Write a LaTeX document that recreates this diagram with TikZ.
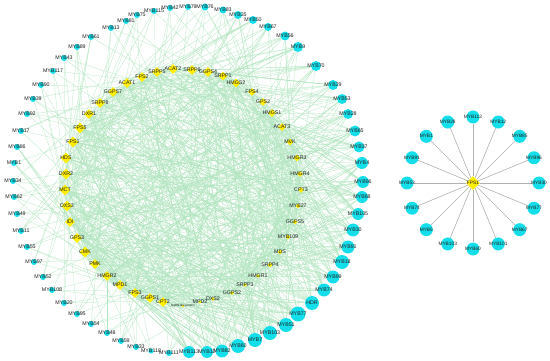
\documentclass[tikz,border=0pt]{standalone}
\usepackage{fontspec}
\setmainfont{Liberation Sans}
\usetikzlibrary{shapes.geometric,backgrounds}
\definecolor{cyanN}{RGB}{20,222,234}
\definecolor{yelN}{RGB}{255,238,0}
\definecolor{edgeG}{RGB}{178,230,192}
\definecolor{edgeS}{RGB}{178,178,178}
\begin{document}
\begin{tikzpicture}[x=1pt,y=-1pt,
  cyn/.style={circle,fill=cyanN,draw=none,inner sep=0pt},
  yel/.style={diamond,fill=yelN,draw=none,inner sep=0pt},
  lbl/.style={font=\fontsize{5.3}{6}\selectfont,inner sep=0pt,text=black!88},
  lbls/.style={font=\fontsize{4.8}{5}\selectfont,inner sep=0pt,text=black!88},
  gedge/.style={draw=edgeG,line width=0.25pt},
  sedge/.style={draw=edgeS,line width=0.6pt}]
\begin{scope}[on background layer]
\fill[white] (0,0) rectangle (550,361);
\end{scope}
\useasboundingbox (0,0) rectangle (550,361);
\pgfmathsetseed{12}
% ---------- inner ring (yellow) ----------
\foreach \n/\x/\y/\s [count=\i] in {
 SRPP8/100/103/5, GGPS7/113/92/5, ACAT1/127/83/5, FPS2/142/77/5, SRPP5/157/72/5,
 ACAT2/173/69/5, SRPP6/192/70/5, GGPS4/208/72/5, SRPP1/223/76/4.5, HMGS2/236/83/4.5,
 FPS4/252/92/4, GPS2/263/102/4, HMGS1/272/113/4, ACAT3/282/127/4, MVK/290/142/3.5,
 HMGR3/297/158/3.5, HMGR4/300/174/3, CPT3/301/190/3, MYB27/298/206/2.5, GGPS5/295/222/2.5,
 MYB109/288/237/2.5, MDS/280/252/2.5, SRPP4/270/265/2.5, HMGR1/258/276/2, SRPP3/245/285/2,
 GGPS2/232/293/2, DXS2/213/299/2, MPD2/200/302/1.8, {\fontsize{3}{3}\selectfont NgBN-like protein}/183/306/1.5, CPT2/163/302/5,
 GGPS1/150/298/5, FPS3/135/293/5, MPD1/120/285/5, HMGR2/107/276/5, PMK/95/264/5,
 CMK/85/252/5.5, GPS3/77/238/5, IDI/70/222/5, DXS3/67/206/5.5, MCT/65/190/5.5,
 DXR2/66/174/5.5, HDS/66/158/5.5, FPS1/73/142/5.5, FPS5/80/128/5.5, DXR1/89/114/5} {
  \node[yel,minimum size={2*\s pt}] (y\i) at (\x,\y) {};
  \node[lbl] (t\i) at (y\i) {\n};
}
% ---------- yellow-yellow edges ----------
\begin{scope}[on background layer]
\foreach \k in {1,...,230} {
  \pgfmathrandominteger{\a}{1}{45}
  \pgfmathrandominteger{\b}{1}{45}
  \pgfmathrandominteger{\bb}{-30}{30}
  \ifnum\a=\b\else \draw[gedge] (y\a) to[bend left=\bb] (y\b); \fi
}
\end{scope}
% ---------- outer ring (cyan) ----------
\foreach \n/\x/\y/\r [count=\i] in {
 MYB1/14/163/3, MYB86/17/147/3, MYB17/21/131/3, MYB92/27/114/3, MYB39/33/99/3,
 MYB90/41/85/3, MYB117/53/71/3, MYB43/64/58/3, MYB89/77/47/3, MYB61/91/37/3,
 MYB13/111/28/3, MYB81/126/21/3, MYB75/137/15/3, MYB115/154/11/3, MYB42/170/8/3,
 MYB79/188/7/3, MYB76/205/7/3.5, MYB83/223/10/3.5, MYB35/238/15/4, MYB50/253/20/4,
 MYB67/268/27/4, MYB56/285/36/4.5, MYB9/298/47/5, MYB70/316/66/5, MYB29/333/85/5,
 MYB53/342/99/5, MYB28/348/114/5, MYB65/355/131/5.5, MYB37/359/147/5.5, MYB4/362/163/6,
 MYB96/363/182/6, MYB68/362/197/6, MYB105/358/214/6, MYB30/353/230/6.5, MYB91/348/247/6.5,
 MYB18/342/262/7, MYB99/333/277/6.5, MYB74/324/290/6.5, HDR/312/303/7, MYB77/298/314/7.5,
 MYB51/286/325/7, MYB103/270/333/7, MYB7/255/340/7, MYB60/238/346/7, MYB82/222/351/6.5,
 MYB12/207/352/6, MYB113/189/352/6, MYB111/169/353/3, MYB118/151/351/2.5, MYB33/136/347/3,
 MYB59/121/341/3, MYB48/107/333/3, MYB54/91/324/3, MYB95/77/314/3, MYB20/64/303/3,
 MYB108/52/290/3, MYB52/43/277/3, MYB97/34/262/3, MYB55/27/247/3, MYB11/21/231/3,
 MYB49/17/214/3, MYB62/14/197/3, MYB34/13/181/3} {
  \node[cyn,minimum size={2*\r pt}] (m\i) at (\x,\y) {};
  \node[lbl] (c\i) at (m\i) {\n};
  \pgfmathtruncatemacro\deg{max(2,round((\r-2.2)*4.5))}
  \begin{scope}[on background layer]
  \foreach \k in {1,...,\deg} {
    \pgfmathrandominteger{\j}{1}{45}
    \pgfmathtruncatemacro\j{((\j>18)&&(\j<30)&&(rnd<0.6))?(30+int(16*rnd)):\j}
    \draw[gedge] (m\i) -- (y\j);
  }
  \end{scope}
}
% ---------- star network ----------
\node[yel,minimum size=14pt] (f0) at (473,183) {};
\node[lbls] (f0t) at (f0) {FPS1};
\foreach \n [count=\i] in {MYB112,MYB12,MYB85,MYB96,MYB30,MYB77,MYB67,MYB101,
  MYB60,MYB103,MYB5,MYB74,MYB53,MYB91,MYB1,MYB28} {
  \pgfmathsetmacro\ang{90-22.5*(\i-1)}
  \pgfmathsetmacro\sx{473+66*cos(\ang)}
  \pgfmathsetmacro\sy{183-66*sin(\ang)}
  \node[cyn,minimum size=13pt] (s\i) at (\sx,\sy) {};
  \node[lbls] (st\i) at (s\i) {\n};
  \begin{scope}[on background layer]
  \draw[sedge] (f0) -- (s\i);
  \end{scope}
}
\end{tikzpicture}
\end{document}
